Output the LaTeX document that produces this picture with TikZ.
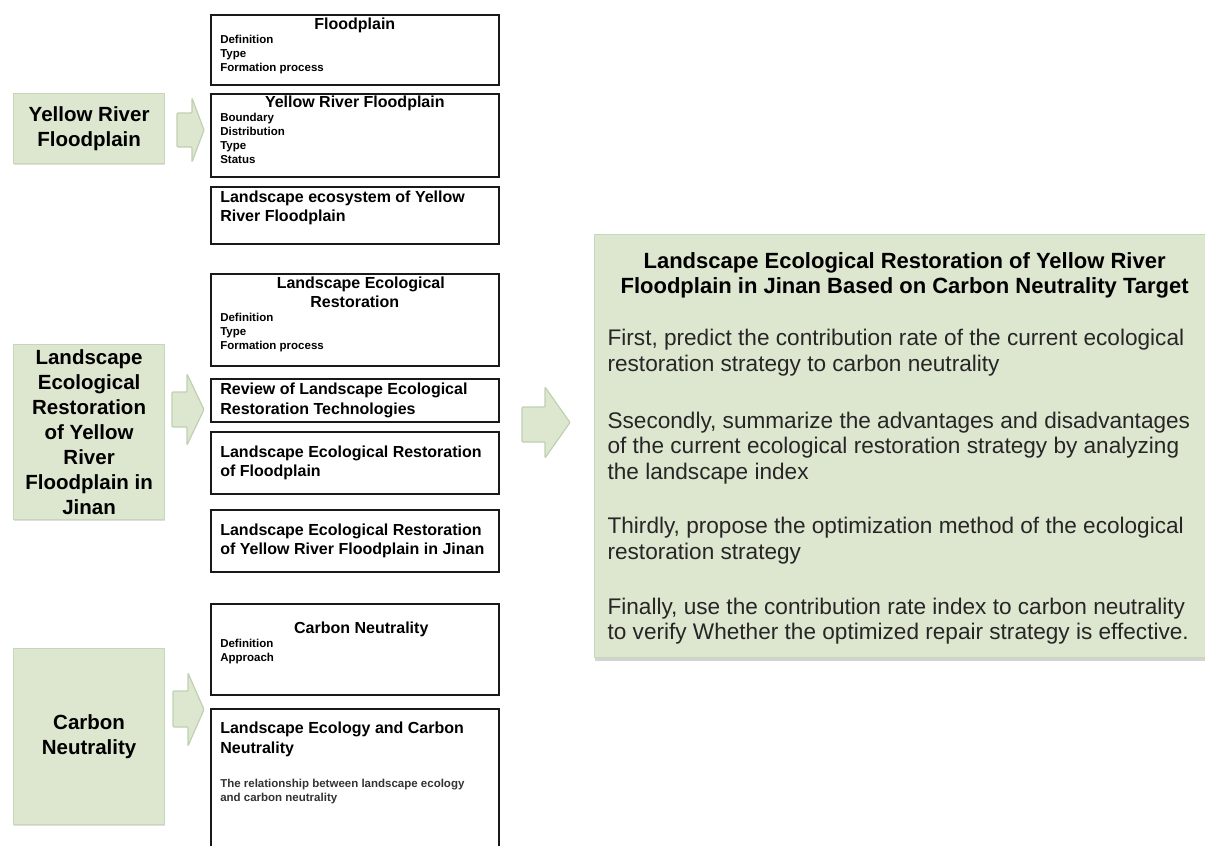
\documentclass[tikz,border=0pt]{standalone}
\usepackage{fontspec}
\setmainfont{Liberation Sans}
\usetikzlibrary{shadows}
\definecolor{sage}{RGB}{221,230,207}
\definecolor{sageline}{RGB}{200,214,186}
\definecolor{arrowline}{RGB}{192,208,178}
\newcommand{\headfont}{\fontsize{16}{19}\selectfont\bfseries}
\newcommand{\itemfont}{\fontsize{11.5}{14}\selectfont\bfseries}
\newcommand{\topicfont}{\fontsize{20.5}{25}\selectfont\bfseries}
\newcommand{\bodyfont}{\fontsize{22.6}{25.8}\selectfont}
\begin{document}
\begin{tikzpicture}[x=1pt,y=-1pt,
    topic/.style={draw=sageline,fill=sage,line width=1.2pt,anchor=north west,
      minimum width=151pt,inner sep=0pt,align=center,font=\topicfont,
      drop shadow={shadow xshift=0.6pt,shadow yshift=-1.5pt,opacity=0.25}},
    subbox/.style={draw=black!90,line width=1.6pt,anchor=north west,
      minimum width=288pt,inner xsep=9.5pt,inner ysep=2pt,font=\bfseries},
    target/.style={draw=sageline,fill=sage,line width=1.2pt,anchor=north west,
      inner xsep=13pt,inner ysep=2pt,
      drop shadow={shadow xshift=0.8pt,shadow yshift=-3pt,opacity=0.35}},
    flowarrow/.style={draw=arrowline,fill=sage,line width=1.2pt,rounded corners=1pt}]
  \useasboundingbox (0,0) rectangle (1205,846);

  % topics on the left
  \node[topic,minimum height=70pt] (yrf) at (13,93) {Yellow River\\Floodplain};
  \node[topic,minimum height=175pt] (ler) at (13,344)
    {Landscape\\Ecological\\Restoration\\of Yellow\\River\\Floodplain in\\Jinan};
  \node[topic,minimum height=176pt] (cn) at (13,648) {Carbon\\Neutrality};

  % block arrows
  \draw[flowarrow] (177,113) -- (192,113) -- (192,98) -- (204,130) -- (192,162) -- (192,147) -- (177,147) -- cycle;
  \draw[flowarrow] (172,392) -- (187,392) -- (187,374) -- (204,409.5) -- (187,445) -- (187,427) -- (172,427) -- cycle;
  \draw[flowarrow] (173,691) -- (188,691) -- (188,673) -- (204,709.5) -- (188,746) -- (188,727) -- (173,727) -- cycle;
  \draw[flowarrow] (522,407) -- (545,407) -- (545,387) -- (570,422.5) -- (545,458) -- (545,442) -- (522,442) -- cycle;

  % Yellow River Floodplain
  \node[subbox] (flood) at (210,14) {\parbox[c][66pt][t]{269pt}{\vspace*{1pt}%
    {\centering\headfont Floodplain\par}
    \itemfont Definition\\Type\\Formation process}};
  \node[subbox] (yrfbox) at (210,93) {\parbox[c][79pt][t]{269pt}{%
    {\centering\headfont Yellow River Floodplain\par}
    \itemfont Boundary\\Distribution\\Type\\Status}};
  \node[subbox] (ecosys) at (210,186) {\parbox[c][53pt][t]{269pt}{\vspace*{2pt}%
    \raggedright\headfont Landscape ecosystem of Yellow\\River Floodplain}};

  % Landscape Ecological Restoration
  \node[subbox] (lerbox) at (210,273) {\parbox[c][88pt][t]{269pt}{\vspace*{1.5pt}%
    {\centering\headfont \hspace*{12pt}Landscape Ecological\\Restoration\par}
    \itemfont Definition\\Type\\Formation process}};
  \node[subbox,minimum height=43pt] (review) at (210,378) {\parbox{269pt}{\raggedright
    \fontsize{16}{19.5}\selectfont Review of Landscape Ecological\\Restoration Technologies}};
  \node[subbox,minimum height=62pt] (lerfp) at (210,431) {\parbox{269pt}{\raggedright
    \headfont Landscape Ecological Restoration\\of Floodplain}};
  \node[subbox,minimum height=62pt] (lerjn) at (210,509) {\parbox{269pt}{\raggedright
    \headfont Landscape Ecological Restoration\\of Yellow River Floodplain in Jinan}};

  % Carbon Neutrality
  \node[subbox] (cnbox) at (210,603) {\parbox[c][87pt][t]{269pt}{\vspace*{16pt}%
    {\centering\headfont \hspace*{13pt}Carbon Neutrality\par}
    \itemfont Definition\\Approach}};
  \node[subbox] (lecn) at (210,708) {\parbox[c][154pt][t]{269pt}{\vspace*{10.8pt}%
    \raggedright{\fontsize{16}{20}\selectfont Landscape Ecology and Carbon\\Neutrality\par}
    \vspace{20.5pt}
    {\itemfont\color{black!80} The relationship between landscape ecology\\and carbon neutrality\par}}};

  % target
  \node[target] (goal) at (594,234) {\parbox[c][419pt][t]{594pt}{\raggedright\vspace*{15.5pt}%
    {\centering\fontsize{22}{25}\selectfont\bfseries Landscape Ecological Restoration of Yellow River\\
      Floodplain in Jinan Based on Carbon Neutrality Target\par}
    \bodyfont\color{black!85}
    \vspace{26.7pt}
    First, predict the contribution rate of the current ecological\\
    restoration strategy to carbon neutrality\par
    \vspace{31pt}
    Ssecondly, summarize the advantages and disadvantages\\
    of the current ecological restoration strategy by analyzing\\
    the landscape index\par
    \vspace{28pt}
    Thirdly, propose the optimization method of the ecological\\
    restoration strategy\par
    \vspace{29pt}
    Finally, use the contribution rate index to carbon neutrality\\
    to verify Whether the optimized repair strategy is effective.\par}};
\end{tikzpicture}
\end{document}
